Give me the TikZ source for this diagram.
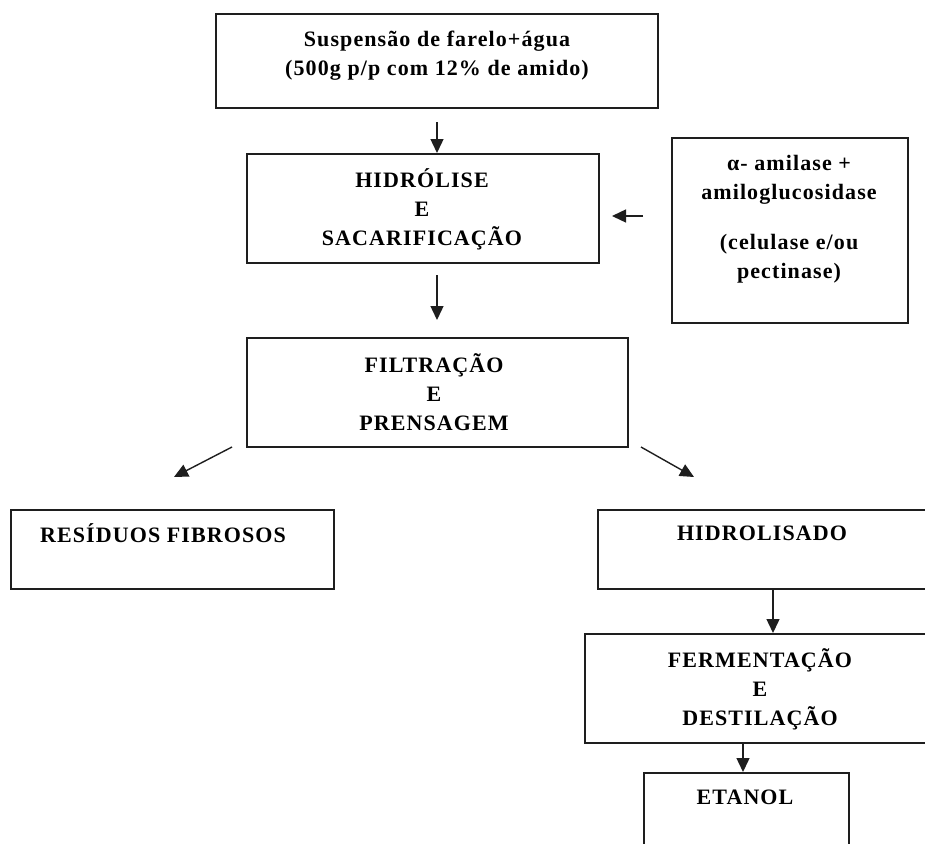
\documentclass[tikz,border=0pt]{standalone}
\usepackage{fontspec}
\setmainfont{Liberation Serif}
\usetikzlibrary{arrows.meta}
\definecolor{ink}{RGB}{30,30,30}
\begin{document}
\begin{tikzpicture}[x=1pt,y=-1pt,
  stagebox/.style={draw=ink,line width=1.8pt,anchor=north west,inner sep=0pt},
  lbl/.style={font=\bfseries\fontsize{22}{29}\selectfont\addfontfeature{LetterSpace=5},
              align=center,inner sep=0pt,text=black},
  arr/.style={draw=ink,line width=1.4pt,-{Triangle[length=14pt,width=13pt]}}]
\useasboundingbox (0,0) rectangle (925,843);
\clip (0,0) rectangle (925,843);

% process boxes
\node[stagebox,minimum width=442pt,minimum height=94pt]  (b1) at (215,13)  {};
\node[stagebox,minimum width=352pt,minimum height=109pt] (b2) at (246,153) {};
\node[stagebox,minimum width=236pt,minimum height=185pt] (b3) at (671,137) {};
\node[stagebox,minimum width=381pt,minimum height=109pt] (b4) at (246,337) {};
\node[stagebox,minimum width=323pt,minimum height=79pt]  (b5) at (10,509)  {};
\node[stagebox,minimum width=360pt,minimum height=79pt]  (b6) at (597,509) {};
\node[stagebox,minimum width=360pt,minimum height=109pt] (b7) at (584,633) {};
\node[stagebox,minimum width=205pt,minimum height=100pt] (b8) at (643,772) {};

% labels
\node[lbl] (t1) at (437,56)  {Suspensão de farelo+água\\(500g p/p com 12\% de amido)};
\node[lbl] (t2) at (422,209) {HIDRÓLISE\\E\\SACARIFICAÇÃO};
\node[lbl] (t3) at (789,219) {α- amilase +\\amiloglucosidase\\[21pt](celulase e/ou\\pectinase)};
\node[lbl] (t4) at (434,392) {FILTRAÇÃO\\E\\PRENSAGEM};
\node[lbl] (t5) at (163,533) {RESÍDUOS FIBROSOS};
\node[lbl] (t6) at (762,533) {HIDROLISADO};
\node[lbl] (t7) at (760,689) {FERMENTAÇÃO\\E\\DESTILAÇÃO};
\node[lbl] (t8) at (745,797) {ETANOL};

% arrow end points
\coordinate (a1) at (437,122);
\coordinate (a2s) at (437,275);
\coordinate (a2e) at (437,320);
\coordinate (a3s) at (643,216);
\coordinate (a3e) at (612,216);
\coordinate (l1s) at (232,447);
\coordinate (l1e) at (174,477);
\coordinate (r1s) at (641,447);
\coordinate (r1e) at (694,477);
\coordinate (a6) at (773,588);
\coordinate (a7) at (743,742);

% connectors
\draw[arr] (a1) -- (a1 |- b2.north);
\draw[arr] (a2s) -- (a2e);
\draw[arr] (a3s) -- (a3e);
\draw[arr] (l1s) -- (l1e);
\draw[arr] (r1s) -- (r1e);
\draw[arr] (a6) -- (a6 |- b7.north);
\draw[arr] (a7) -- (a7 |- b8.north);
\end{tikzpicture}
\end{document}
